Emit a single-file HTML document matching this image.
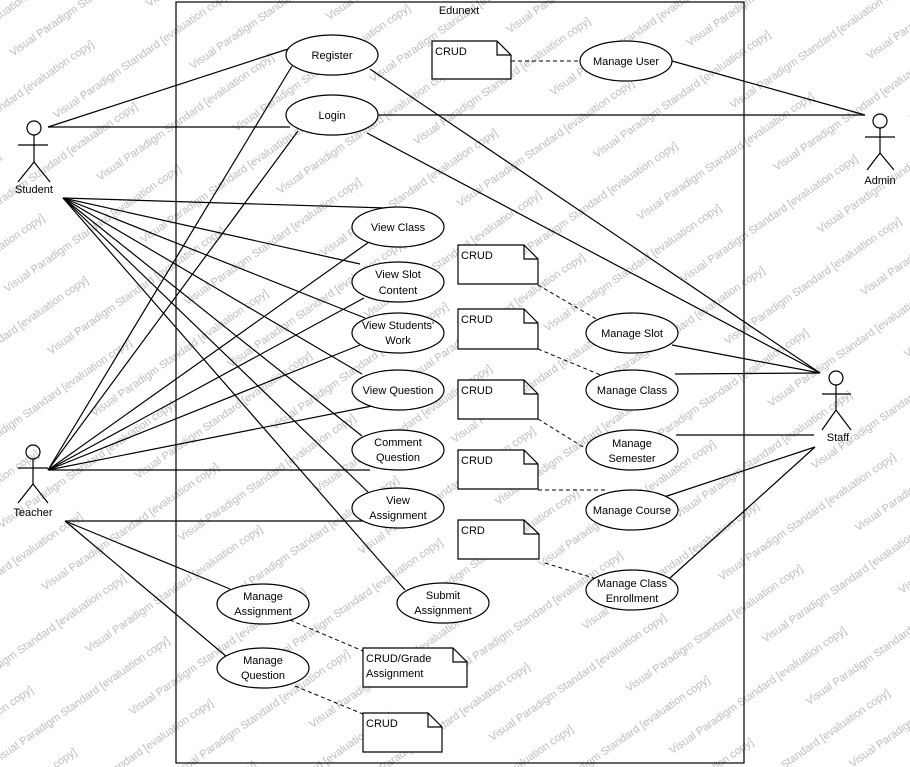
<!DOCTYPE html>
<html><head><meta charset="utf-8"><style>
html,body{margin:0;padding:0;background:#fff;}
svg{display:block;}
text{font-family:"Liberation Sans",Arial,sans-serif;}
</style></head><body>
<svg width="910" height="767" viewBox="0 0 910 767" xmlns="http://www.w3.org/2000/svg">
<defs>
<pattern id="wm" width="280" height="76" patternUnits="userSpaceOnUse" patternTransform="rotate(-35 455 383)">
<text x="0" y="14" font-size="11" fill="#bcbcbc">Visual Paradigm Standard [evaluation copy]</text>
<text x="140" y="52" font-size="11" fill="#bcbcbc">Visual Paradigm Standard [evaluation copy]</text>
<text x="-140" y="52" font-size="11" fill="#bcbcbc">Visual Paradigm Standard [evaluation copy]</text>
</pattern>
</defs>
<rect width="910" height="767" fill="#fff"/>
<rect width="910" height="767" fill="url(#wm)"/>
<g fill="none" stroke="#000" stroke-width="1.2">
<rect x="176" y="2" width="568" height="761"/>
<circle cx="34" cy="128" r="7"/><line x1="34" y1="135" x2="34" y2="162"/><line x1="18" y1="145" x2="48" y2="145"/><line x1="34" y1="162" x2="18" y2="182"/><line x1="34" y1="162" x2="50" y2="182"/>
<circle cx="33" cy="452" r="7"/><line x1="33" y1="459" x2="33" y2="484"/><line x1="18" y1="468" x2="48" y2="468"/><line x1="33" y1="484" x2="18" y2="503"/><line x1="33" y1="484" x2="48" y2="503"/>
<circle cx="880" cy="121" r="7"/><line x1="880" y1="128" x2="880" y2="153"/><line x1="865" y1="137" x2="895" y2="137"/><line x1="880" y1="153" x2="867" y2="170"/><line x1="880" y1="153" x2="894" y2="170"/>
<circle cx="836" cy="378" r="7"/><line x1="836" y1="385" x2="836" y2="410"/><line x1="822" y1="394" x2="851" y2="394"/><line x1="836" y1="410" x2="822" y2="430"/><line x1="836" y1="410" x2="851" y2="430"/>
<line x1="48" y1="127" x2="288" y2="49"/><line x1="48" y1="127" x2="290" y2="127"/>
<line x1="63" y1="198" x2="385" y2="208"/>
<line x1="63" y1="198" x2="360" y2="264"/>
<line x1="63" y1="198" x2="365" y2="318"/>
<line x1="63" y1="198" x2="362" y2="374"/>
<line x1="63" y1="198" x2="362" y2="436"/>
<line x1="63" y1="198" x2="368" y2="492"/>
<line x1="63" y1="198" x2="405" y2="590"/>
<line x1="48" y1="470" x2="292" y2="66"/>
<line x1="48" y1="470" x2="298" y2="131"/>
<line x1="48" y1="470" x2="369" y2="242"/>
<line x1="48" y1="470" x2="364" y2="298"/>
<line x1="48" y1="470" x2="360" y2="345"/>
<line x1="48" y1="470" x2="372" y2="406"/>
<line x1="48" y1="470" x2="370" y2="470"/>
<line x1="65" y1="521" x2="365" y2="521"/>
<line x1="65" y1="521" x2="230" y2="589"/>
<line x1="65" y1="521" x2="227" y2="657"/>
<line x1="378" y1="115" x2="865" y2="115"/>
<line x1="672" y1="61" x2="865" y2="115"/>
<line x1="370" y1="69" x2="820" y2="373"/>
<line x1="367" y1="133" x2="820" y2="373"/>
<line x1="672" y1="345" x2="820" y2="373"/>
<line x1="675" y1="374" x2="820" y2="373"/>
<line x1="676" y1="435" x2="814" y2="435"/>
<line x1="664" y1="497" x2="815" y2="447"/>
<line x1="670" y1="578" x2="815" y2="447"/>
</g>
<g fill="none" stroke="#000" stroke-width="1" stroke-dasharray="4,3">
<line x1="511" y1="61" x2="580" y2="61"/>
<line x1="538" y1="285" x2="598" y2="320"/>
<line x1="538" y1="349" x2="603" y2="376"/>
<line x1="538" y1="419" x2="588" y2="450"/>
<line x1="538" y1="490" x2="608" y2="490"/>
<line x1="545" y1="563" x2="600" y2="580"/>
<line x1="290" y1="620" x2="363" y2="651"/>
<line x1="295" y1="686" x2="363" y2="714"/>
</g>
<g fill="#fff" stroke="#000" stroke-width="1.2">
<ellipse cx="332" cy="55" rx="46" ry="20"/>
<ellipse cx="332" cy="115" rx="46" ry="20"/>
<ellipse cx="626" cy="61" rx="46" ry="20"/>
<ellipse cx="398" cy="227" rx="46" ry="20"/>
<ellipse cx="398" cy="282" rx="46" ry="20"/>
<ellipse cx="398" cy="333" rx="46" ry="20"/>
<ellipse cx="398" cy="390" rx="46" ry="20"/>
<ellipse cx="398" cy="450" rx="46" ry="20"/>
<ellipse cx="398" cy="508" rx="46" ry="20"/>
<ellipse cx="443" cy="603" rx="46" ry="20"/>
<ellipse cx="632" cy="333" rx="46" ry="20"/>
<ellipse cx="632" cy="390" rx="46" ry="20"/>
<ellipse cx="632" cy="450" rx="46" ry="20"/>
<ellipse cx="632" cy="510" rx="46" ry="20"/>
<ellipse cx="632" cy="590" rx="46" ry="20"/>
<ellipse cx="263" cy="604" rx="46" ry="20"/>
<ellipse cx="263" cy="668" rx="46" ry="20"/>
<path d="M432 41 H497 L511 55 V79 H432 Z M497 41 V55 H511"/>
<path d="M458 245 H524 L538 259 V284 H458 Z M524 245 V259 H538"/>
<path d="M458 309 H524 L538 323 V349 H458 Z M524 309 V323 H538"/>
<path d="M458 380 H524 L538 394 V419 H458 Z M524 380 V394 H538"/>
<path d="M458 450 H524 L538 464 V489 H458 Z M524 450 V464 H538"/>
<path d="M458 520 H524 L539 534 V559 H458 Z M524 520 V534 H539"/>
<path d="M363 648 H453 L467 662 V687 H363 Z M453 648 V662 H467"/>
<path d="M363 713 H428 L442 727 V752 H363 Z M428 713 V727 H442"/>
</g>
<g font-size="11" fill="#000" text-anchor="middle">
<text x="459" y="14">Edunext</text>
<text x="34" y="193">Student</text>
<text x="33" y="516">Teacher</text>
<text x="880" y="184">Admin</text>
<text x="838" y="441">Staff</text>
<text x="332" y="59">Register</text>
<text x="332" y="119">Login</text>
<text x="626" y="65">Manage User</text>
<text x="398" y="231">View Class</text>
<text x="398" y="278">View Slot</text><text x="398" y="294">Content</text>
<text x="398" y="329">View Students'</text><text x="398" y="344">Work</text>
<text x="398" y="394">View Question</text>
<text x="398" y="446">Comment</text><text x="398" y="461">Question</text>
<text x="398" y="504">View</text><text x="398" y="519">Assignment</text>
<text x="443" y="599">Submit</text><text x="443" y="614">Assignment</text>
<text x="632" y="337">Manage Slot</text>
<text x="632" y="394">Manage Class</text>
<text x="632" y="447">Manage</text><text x="632" y="462">Semester</text>
<text x="632" y="514">Manage Course</text>
<text x="632" y="587">Manage Class</text><text x="632" y="602">Enrollment</text>
<text x="263" y="600">Manage</text><text x="263" y="615">Assignment</text>
<text x="263" y="664">Manage</text><text x="263" y="679">Question</text>
</g>
<g font-size="11" fill="#000">
<text x="435" y="55">CRUD</text>
<text x="461" y="259">CRUD</text>
<text x="461" y="323">CRUD</text>
<text x="461" y="394">CRUD</text>
<text x="461" y="464">CRUD</text>
<text x="461" y="534">CRD</text>
<text x="366" y="662">CRUD/Grade</text>
<text x="366" y="677">Assignment</text>
<text x="366" y="727">CRUD</text>
</g>
</svg>
</body></html>
